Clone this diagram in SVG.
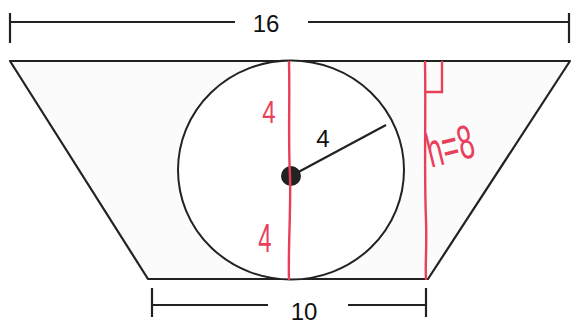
<svg xmlns="http://www.w3.org/2000/svg" width="572" height="326" viewBox="0 0 572 326">
<style>
.blk{stroke:#222;stroke-width:2.2;fill:none}
.red{stroke:#e8405a;stroke-width:2.4;fill:none;stroke-linecap:round}
.dim{font-family:"Liberation Sans",Arial,sans-serif;font-size:24px;fill:#111;text-anchor:middle}
.hand{font-family:"Liberation Sans",Arial,sans-serif;fill:#e8405a;text-anchor:middle}
</style>
<rect width="572" height="326" fill="#ffffff"/>
<g id="trapezoid">
<polygon points="10,61 570,61 428,279 148,279" fill="#fbfbfb" stroke="#222" stroke-width="2.2" stroke-linejoin="round"/>
</g>
<g id="circle">
<ellipse cx="291" cy="170" rx="113" ry="109.5" fill="#ffffff" stroke="#222" stroke-width="2"/>
<line class="blk" x1="291" y1="176" x2="386" y2="125" stroke-width="2"/>
<circle cx="291" cy="176" r="10" fill="#222"/>
<text class="dim" x="323" y="147" font-size="21">4</text>
</g>
<g id="red-marks">
<path class="red" d="M289,62 C290,100 288,140 290,176 C291,210 288,250 289,279"/>
<path class="red" d="M425,62 C426,110 424,170 426,220 C427,250 425,265 426,279"/>
<path class="red" d="M442,62 L442,92 L426,92"/>
<text class="hand" x="269" y="123" font-size="32" transform="translate(269,123) scale(0.75,1) translate(-269,-123)">4</text>
<text class="hand" x="265" y="252" font-size="40" transform="translate(265,252) scale(0.6,1) translate(-265,-252)">4</text>
<text class="hand" x="454" y="162" font-size="48" transform="rotate(-14 454 162) translate(454,162) scale(0.58,1) translate(-454,-162)">h=8</text>
</g>
<g id="dimensions">
<line class="blk" x1="10" y1="22" x2="235" y2="22"/>
<line class="blk" x1="308" y1="22" x2="569" y2="22"/>
<line class="blk" x1="10" y1="13" x2="10" y2="43"/>
<line class="blk" x1="569" y1="13" x2="569" y2="43"/>
<text class="dim" x="266" y="32">16</text>
<line class="blk" x1="152" y1="305" x2="268" y2="305"/>
<line class="blk" x1="348" y1="305" x2="426" y2="305"/>
<line class="blk" x1="152" y1="288" x2="152" y2="317"/>
<line class="blk" x1="426" y1="288" x2="426" y2="317"/>
<text class="dim" x="304" y="320" font-size="22">10</text>
</g>
</svg>
